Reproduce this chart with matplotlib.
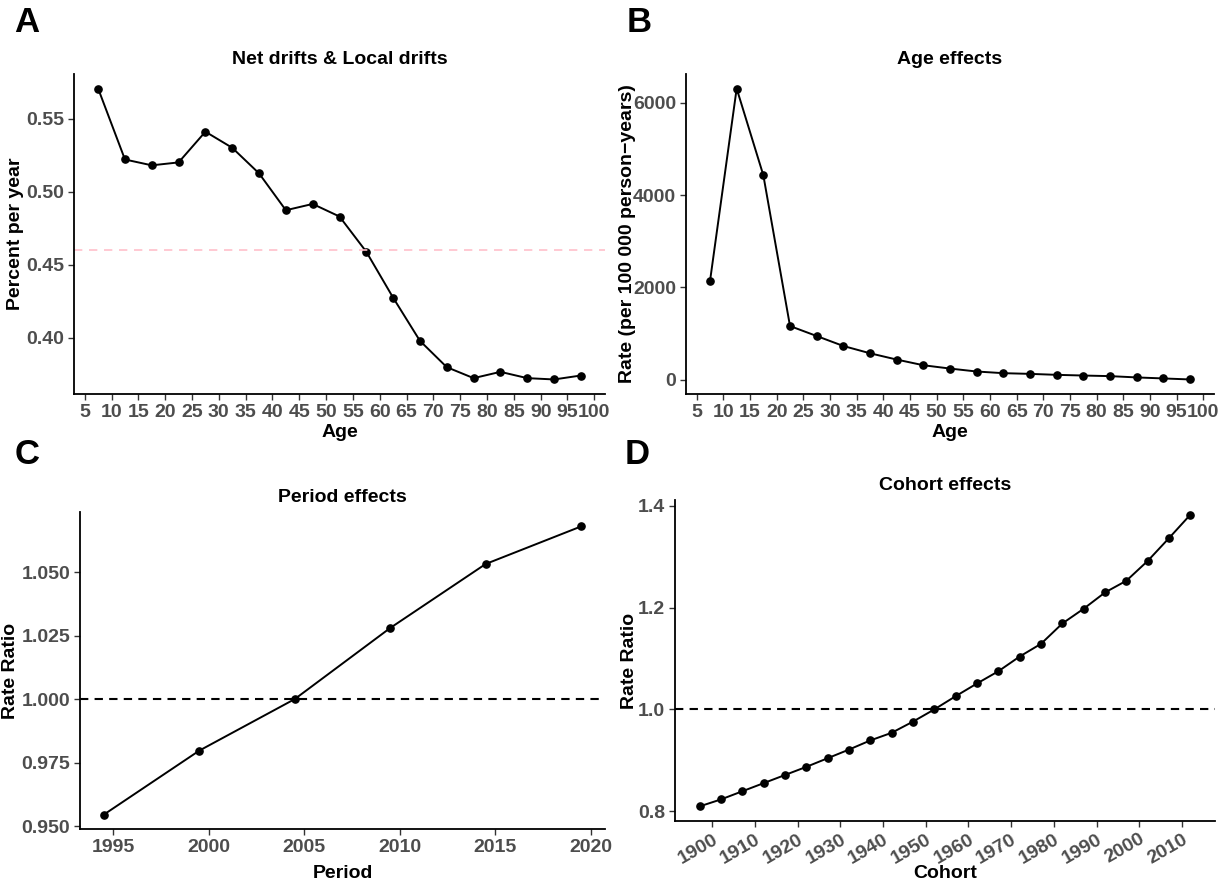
import matplotlib
matplotlib.use('Agg')
from matplotlib import pyplot as plt
from matplotlib.ticker import FormatStrFormatter

plt.rcParams['font.family'] = ['Liberation Sans', 'DejaVu Sans']
plt.rcParams['font.weight'] = 'bold'

# ages (midpoints of 5-year groups)
ages = [7.5, 12.5, 17.5, 22.5, 27.5, 32.5, 37.5, 42.5, 47.5, 52.5,
        57.5, 62.5, 67.5, 72.5, 77.5, 82.5, 87.5, 92.5, 97.5]
# local drifts, percent per year
local_drift = [0.5705, 0.522, 0.518, 0.520, 0.541, 0.530, 0.5125, 0.4873, 0.4916, 0.483,
               0.4589, 0.4275, 0.398, 0.380, 0.3725, 0.3768, 0.3725, 0.3716, 0.3743]
net_drift = 0.46
# age effects, rate per 100 000 person-years
age_rate = [2137, 6309, 4431, 1165, 949, 733, 575, 439, 316, 244,
            180, 144, 129, 108, 93, 80, 52, 30, 8]
# period effects
periods = [1994.5, 1999.5, 2004.5, 2009.5, 2014.5, 2019.5]
period_rr = [0.9545, 0.9797, 1.000, 1.028, 1.0532, 1.068]
# cohort effects
cohorts = [1897, 1902, 1907, 1912, 1917, 1922, 1927, 1932, 1937, 1942, 1947, 1952,
           1957, 1962, 1967, 1972, 1977, 1982, 1987, 1992, 1997, 2002, 2007, 2012]
cohort_rr = [0.8093, 0.823, 0.839, 0.855, 0.871, 0.887, 0.904, 0.921, 0.939, 0.954, 0.976, 1.000,
             1.026, 1.051, 1.075, 1.104, 1.129, 1.169, 1.198, 1.230, 1.253, 1.292, 1.337, 1.383]

age_ticks = [5, 10, 15, 20, 25, 30, 35, 40, 45, 50, 55, 60, 65, 70, 75, 80, 85, 90, 95, 100]
tick_size = 14

W, H = 1229, 886
fig = plt.figure(figsize=(W / 100, H / 100), dpi=100)


def box(left, right, top, bottom):
    return [left / W, 1 - bottom / H, (right - left) / W, (bottom - top) / H]


def style_ax(ax, title, xlabel, ylabel, xl_y, yl_x):
    for s in ['top', 'right']:
        ax.spines[s].set_visible(False)
    for s in ['left', 'bottom']:
        ax.spines[s].set_linewidth(1.3)
        ax.spines[s].set_color('black')
    ax.tick_params(length=4, width=1, color='#333333', labelcolor='#4D4D4D',
                   labelsize=tick_size, pad=3)
    for lab in ax.get_xticklabels() + ax.get_yticklabels():
        lab.set_fontweight('bold')
    ax.set_title(title, fontsize=14, fontweight='bold', pad=7)
    ax.set_xlabel(xlabel, fontsize=14, fontweight='bold')
    ax.set_ylabel(ylabel, fontsize=14, fontweight='bold')
    ax.xaxis.set_label_coords(0.5, xl_y)
    ax.xaxis.label.set_va('center')
    ax.yaxis.set_label_coords(yl_x, 0.5)
    ax.yaxis.label.set_va('center')
    ax.margins(x=0.05, y=0.05)


line_kw = dict(color='black', lw=1.4, marker='o', markersize=5.2)

# A
axA = fig.add_axes(box(74, 605, 74, 394))
axA.plot(ages, local_drift, **line_kw)
axA.axhline(net_drift, color='pink', lw=1.2, ls=(0, (5, 4)))
axA.set_xticks(age_ticks)
axA.set_yticks([0.40, 0.45, 0.50, 0.55])
axA.yaxis.set_major_formatter(FormatStrFormatter('%.2f'))
style_ax(axA, 'Net drifts & Local drifts', 'Age', 'Percent per year',
         -(432 - 394) / 320, (16 - 74) / 531)

# B
axB = fig.add_axes(box(686, 1214, 74, 394))
axB.plot(ages, age_rate, **line_kw)
axB.set_xticks(age_ticks)
axB.set_yticks([0, 2000, 4000, 6000])
style_ax(axB, 'Age effects', 'Age', 'Rate (per 100 000 person\u2212years)',
         -(432 - 394) / 320, (628 - 686) / 528)

# C
axC = fig.add_axes(box(80, 605, 512, 829))
axC.plot(periods, period_rr, **line_kw)
axC.axhline(1.0, color='black', lw=1.5, ls=(0, (4, 3)))
axC.set_xticks([1995, 2000, 2005, 2010, 2015, 2020])
axC.set_yticks([0.950, 0.975, 1.000, 1.025, 1.050])
axC.yaxis.set_major_formatter(FormatStrFormatter('%.3f'))
style_ax(axC, 'Period effects', 'Period', 'Rate Ratio',
         -(874 - 829) / 317, (11 - 80) / 525)

# D
axD = fig.add_axes(box(675, 1215, 500, 821))
axD.plot(cohorts, cohort_rr, **line_kw)
axD.axhline(1.0, color='black', lw=1.5, ls=(0, (4, 3)))
axD.set_xticks([1900, 1910, 1920, 1930, 1940, 1950, 1960, 1970, 1980, 1990, 2000, 2010])
axD.set_yticks([0.8, 1.0, 1.2, 1.4])
axD.yaxis.set_major_formatter(FormatStrFormatter('%.1f'))
style_ax(axD, 'Cohort effects', 'Cohort', 'Rate Ratio',
         -(874 - 821) / 321, (630 - 675) / 540)
for lab in axD.get_xticklabels():
    lab.set_rotation(30)
    lab.set_ha('right')
    lab.set_rotation_mode('anchor')

# panel letters
for letter, x, y in [('A', 27, 22), ('B', 639, 22), ('C', 27, 455), ('D', 637, 455)]:
    fig.text(x / W, 1 - y / H, letter, fontsize=25, fontweight='bold',
             ha='center', va='center')

fig.savefig('out.png', dpi=100)
